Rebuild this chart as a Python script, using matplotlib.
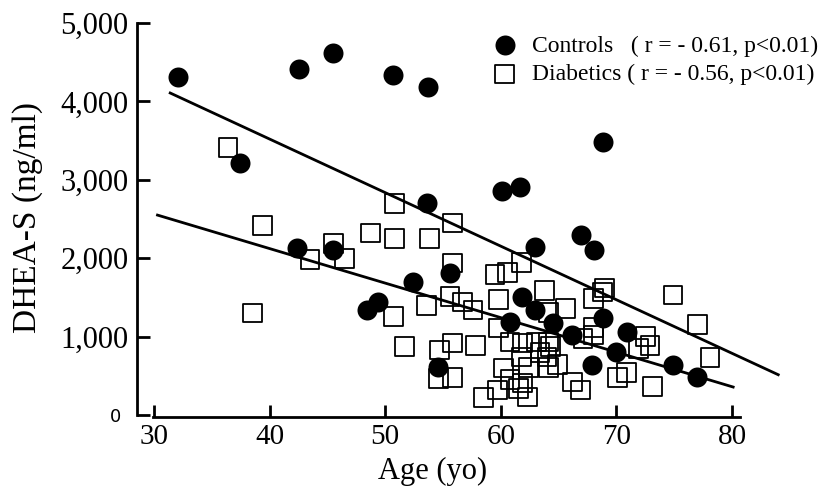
import matplotlib.pyplot as plt
from matplotlib.transforms import ScaledTranslation

plt.rcParams['font.family'] = ['Liberation Serif', 'DejaVu Serif']

# Controls (filled circles): age in years, DHEA-S in ng/ml
controls_age = [32.1, 42.5, 45.5, 50.7, 53.7, 37.4, 60.1, 61.7, 68.8, 53.6,
                42.4, 45.5, 52.4, 55.6, 49.4, 48.4, 63.0, 66.9, 68.1, 61.8,
                63.0, 60.8, 64.5, 54.6, 68.8, 66.2, 70.9, 70.0, 67.9, 74.9,
                77.0]
controls_dhea = [4310, 4410, 4620, 4340, 4180, 3210, 2860, 2910, 3480, 2700,
                 2130, 2100, 1700, 1810, 1440, 1340, 2140, 2300, 2100, 1500,
                 1340, 1190, 1170, 610, 1240, 1020, 1060, 800, 640, 640,
                 490]

# Diabetics (open squares)
diabetics_age = [36.4, 39.4, 38.5, 43.5, 45.5, 46.5, 48.7, 50.8, 50.8, 53.8,
                 55.8, 55.8, 50.7, 51.7, 53.6, 55.6, 56.7, 57.6, 59.5, 59.8,
                 60.6, 61.8, 63.8, 59.8, 54.7, 55.8, 57.8, 60.8, 61.9, 63.1,
                 64.1, 61.8, 64.1, 54.6, 55.8, 60.2, 60.8, 59.7, 58.5, 61.5,
                 62.3, 61.9, 64.1, 65.6, 68.0, 68.8, 69.0, 68.0, 67.1, 72.5,
                 72.9, 71.9, 74.9, 77.0, 78.1, 73.1, 70.1, 70.9, 66.2, 66.9,
                 64.3, 68.0, 62.4, 64.9, 63.4, 64.0]
diabetics_dhea = [3410, 2420, 1300, 1980, 2190, 2000, 2320, 2700, 2250, 2250,
                  2450, 1940, 1260, 870, 1400, 1510, 1440, 1340, 1790, 1470,
                  1820, 1950, 1590, 1110, 830, 920, 890, 930, 920, 930,
                  930, 740, 610, 470, 480, 600, 450, 320, 220, 340,
                  230, 410, 1310, 1360, 1490, 1570, 1620, 1120, 980, 1000,
                  890, 850, 1530, 1150, 730, 360, 480, 540, 420, 320,
                  870, 1020, 610, 640, 800, 740]

# regression line end points
controls_fit_age = [31.4, 84.0]
controls_fit_dhea = [4107, 514]
diabetics_fit_age = [30.3, 80.1]
diabetics_fit_dhea = [2550, 357]

labels = ['Controls   ( r = - 0.61, p<0.01)',
          'Diabetics ( r = - 0.56, p<0.01)']
yticks = [0, 1000, 2000, 3000, 4000, 5000]
ytick_labels = ['0', '1,000', '2,000', '3,000', '4,000', '5,000']
xticks = [30, 40, 50, 60, 70, 80]

fig = plt.figure(figsize=(8.26, 4.9), dpi=100)
ax = fig.add_axes([0.1659, 0.1482, 0.7343, 0.8049])

sq = ax.scatter(diabetics_age, diabetics_dhea, marker='s', s=13.5**2,
                facecolors='none', edgecolors='black', linewidths=1.3,
                zorder=2, label=labels[1])
ci = ax.scatter(controls_age, controls_dhea, marker='o', s=14.4**2,
                color='black', linewidths=0, zorder=3, label=labels[0])
ax.plot(controls_fit_age, controls_fit_dhea, color='black', lw=2.0,
        zorder=4, clip_on=False)
ax.plot(diabetics_fit_age, diabetics_fit_dhea, color='black', lw=2.0,
        zorder=4, clip_on=False)

ax.set_xlim(28.53, 81)
ax.set_ylim(-30, 5000)
for s in ['top', 'right']:
    ax.spines[s].set_visible(False)
ax.spines['left'].set_bounds(0, 5000)
ax.spines['bottom'].set_bounds(29.9, 80.7)
ax.spines['left'].set_linewidth(2)
ax.spines['bottom'].set_linewidth(2)

ax.set_yticks(yticks)
ax.set_yticklabels(ytick_labels, fontsize=22)
ax.set_xticks(xticks)
ax.set_xticklabels([str(t) for t in xticks], fontsize=21)
ax.tick_params(direction='in', length=9, width=2, pad=6)
ax.tick_params(axis='x', pad=5)

# the zero label is set in a smaller sans face, a little further left
zero = ax.get_yticklabels()[0]
zero.set_fontfamily('DejaVu Sans')
zero.set_fontsize(13)
zero.set_transform(zero.get_transform() +
                   ScaledTranslation(-8 / 100, 0, fig.dpi_scale_trans))

ax.set_ylabel('DHEA-S (ng/ml)', fontsize=24)
ax.yaxis.set_label_coords(-0.155, 0.508)
ax.set_xlabel('Age (yo)', fontsize=22)
ax.xaxis.set_label_coords(0.488, -0.1)

ax.legend(handles=[ci, sq], labels=labels, loc='upper left',
          bbox_to_anchor=(493 / 826, 1 - 35 / 490),
          bbox_transform=fig.transFigure, frameon=False, fontsize=17,
          borderpad=0, borderaxespad=0, handlelength=1.0,
          handletextpad=0.65, labelspacing=0.3)

fig.savefig('out.png', dpi=100)
